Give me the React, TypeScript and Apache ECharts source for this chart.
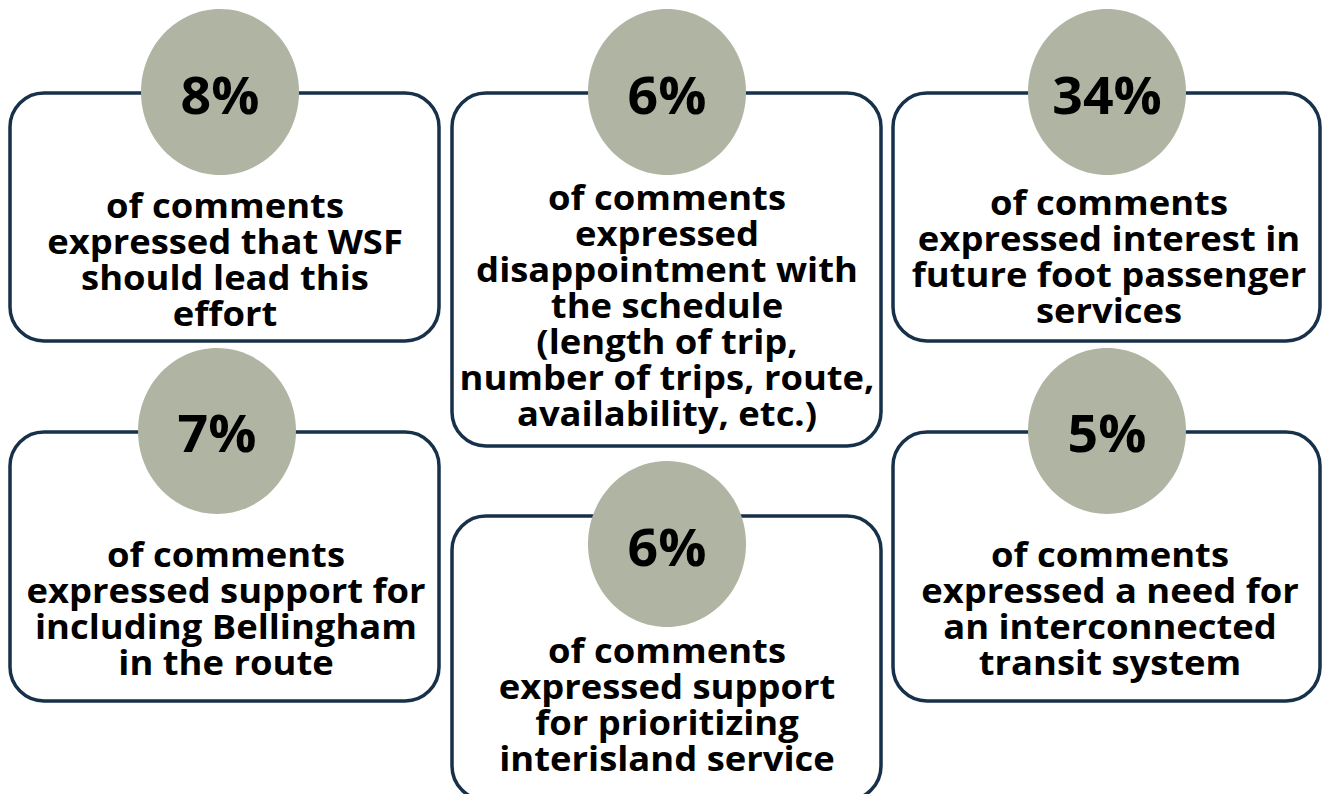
import React, { useEffect, useRef } from "react";
import * as echarts from "echarts";

// ---- data ----
const percents: string[] = ["8%", "6%", "34%", "7%", "6%", "5%"];
const descriptions: string[][] = [
  ["of comments", "expressed that WSF", "should lead this", "effort"],
  [
    "of comments",
    "expressed",
    "disappointment with",
    "the schedule",
    "(length of trip,",
    "number of trips, route,",
    "availability, etc.)",
  ],
  ["of comments", "expressed interest in", "future foot passenger", "services"],
  ["of comments", "expressed support for", "including Bellingham", "in the route"],
  ["of comments", "expressed support", "for prioritizing", "interisland service"],
  ["of comments", "expressed a need for", "an interconnected", "transit system"],
];

// ---- layout (positions / sizes) ----
const layout = [
  { x: 10, y: 93, w: 429, h: 248, cx: 220, cy: 92, tx: 225, ty: 186, py: 94 },
  { x: 452, y: 93, w: 429, h: 353, cx: 667, cy: 92, tx: 667, ty: 178, py: 94 },
  { x: 893, y: 93, w: 427, h: 248, cx: 1107, cy: 92, tx: 1109, ty: 183, py: 94 },
  { x: 10, y: 432, w: 429, h: 269, cx: 217, cy: 431, tx: 226, ty: 535, py: 432 },
  { x: 452, y: 516, w: 429, h: 284, cx: 667, cy: 544, tx: 667, ty: 631, py: 546 },
  { x: 893, y: 432, w: 427, h: 269, cx: 1107, cy: 431, tx: 1110, ty: 535, py: 432 },
];

const BORDER = "#17314a";
const CIRCLE = "#b0b4a2";
const FONT = '"Open Sans", "Noto Sans", sans-serif';

export default function App() {
  const ref = useRef<HTMLDivElement>(null);
  useEffect(() => {
    document.body.style.margin = "0";
    const chart = echarts.init(ref.current!, null, { renderer: "svg" });
    const elements: any[] = [];
    percents.forEach((p, i) => {
      const L = layout[i];
      elements.push({
        type: "rect",
        shape: { x: L.x, y: L.y, width: L.w, height: L.h, r: 34 },
        style: { fill: "#ffffff", stroke: BORDER, lineWidth: 3.5 },
        z: 1,
      });
      elements.push({
        type: "ellipse",
        shape: { cx: L.cx, cy: L.cy, rx: 79, ry: 83 },
        style: { fill: CIRCLE },
        z: 2,
      });
      elements.push({
        type: "text",
        x: L.cx,
        y: L.py,
        scaleX: 1.03,
        style: {
          text: p,
          font: `bold 52px ${FONT}`,
          fill: "#000000",
          align: "center",
          verticalAlign: "middle",
        },
        z: 3,
      });
      elements.push({
        type: "text",
        x: L.tx,
        y: L.ty,
        scaleX: 1.07,
        style: {
          text: descriptions[i].join("\n"),
          font: `bold 34px ${FONT}`,
          lineHeight: 36,
          fill: "#000000",
          align: "center",
          verticalAlign: "top",
        },
        z: 3,
      });
    });
    chart.setOption({
      animation: false,
      backgroundColor: "#ffffff",
      graphic: { elements },
    });
    return () => chart.dispose();
  }, []);
  return (
    <div
      ref={ref}
      style={{ position: "absolute", left: 0, top: 0, width: 1322, height: 794 }}
    />
  );
}
